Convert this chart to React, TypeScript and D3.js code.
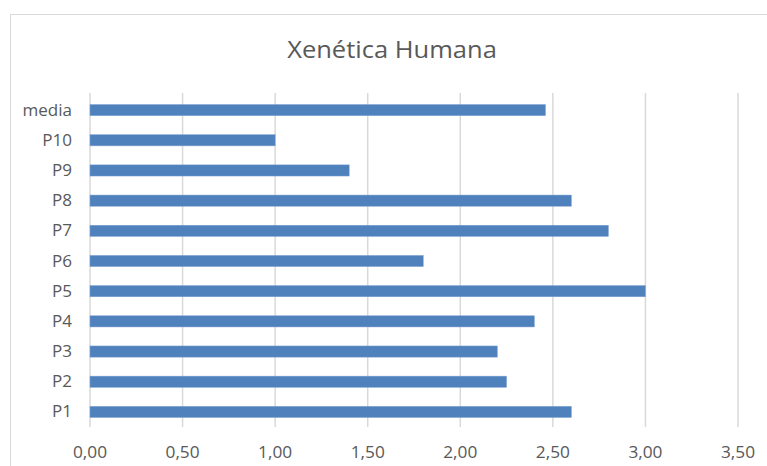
import React from "react";
import * as d3 from "d3";

const categories = ["P1", "P2", "P3", "P4", "P5", "P6", "P7", "P8", "P9", "P10", "media"];
const values = [2.6, 2.25, 2.2, 2.4, 3.0, 1.8, 2.8, 2.6, 1.4, 1.0, 2.46];
const ticks = [0, 0.5, 1, 1.5, 2, 2.5, 3, 3.5];
const title = "Xenética Humana";

function SText({ x, y, sx, children, ...rest }: any) {
  return (
    <g transform={`translate(${x},${y}) scale(${sx},1)`}>
      <text x={0} y={0} {...rest}>
        {children}
      </text>
    </g>
  );
}

export default function App() {
  const W = 767, H = 466;
  const x = d3.scaleLinear().domain([0, 3.5]).range([90, 738]);
  const y = d3
    .scaleBand<string>()
    .domain([...categories].reverse())
    .range([95, 427])
    .paddingInner(0.63)
    .paddingOuter(0.315);
  const fmt = (v: number) => v.toFixed(2).replace(".", ",");
  const font = "'Open Sans', 'Segoe UI', sans-serif";
  return (
    <svg
      width={W}
      height={H}
      style={{ position: "absolute", left: 0, top: 0, background: "#fff" }}
      fontFamily={font}
    >
      <rect x={10.5} y={14.5} width={W + 10} height={H + 10} fill="#fff" stroke="#d9d9d9" strokeWidth={1} />
      <SText x={392} y={58} sx={1.11} textAnchor="middle" fontSize={23} fill="#595959">
        {title}
      </SText>
      {ticks.map((t) => (
        <g key={t}>
          <line x1={x(t)} x2={x(t)} y1={93} y2={427} stroke="#d9d9d9" strokeWidth={1.5} />
          <SText x={x(t)} y={458} sx={1.08} textAnchor="middle" fontSize={16} fill="#595959">
            {fmt(t)}
          </SText>
        </g>
      ))}
      {categories.map((c, i) => (
        <g key={c}>
          <rect
            x={x(0)}
            y={y(c)!}
            width={x(values[i]) - x(0)}
            height={y.bandwidth()}
            fill="#4f81bd"
            stroke="#7fa3d1"
            strokeWidth={0.5}
          />
          <SText
            x={72}
            y={y(c)! + y.bandwidth() / 2}
            sx={1.1}
            dy="0.36em"
            textAnchor="end"
            fontSize={15.5}
            fill="#595959"
          >
            {c}
          </SText>
        </g>
      ))}
    </svg>
  );
}
